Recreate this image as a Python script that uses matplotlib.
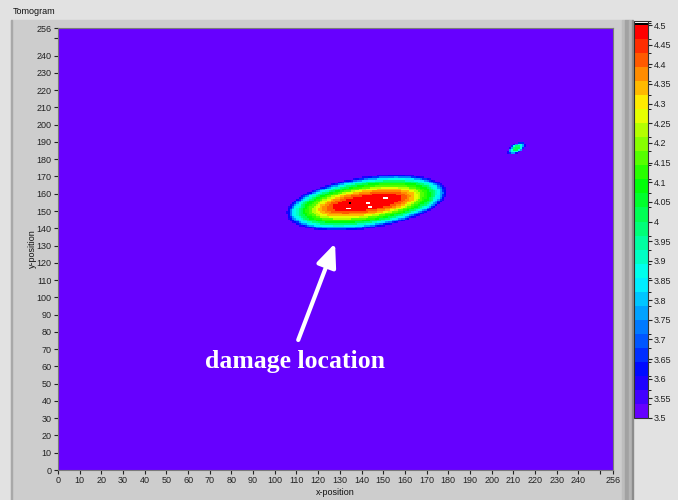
import numpy as np
import matplotlib
matplotlib.use('Agg')
import matplotlib.pyplot as plt
from matplotlib.colors import ListedColormap, BoundaryNorm, LinearSegmentedColormap
from matplotlib.patches import Rectangle

# ---- data ----
grid_size = 256
background_value = 3.5

# main damage zone: elliptical blob; each level outline given as relative (major, minor) radius
blob_center = [142.3, 154.8]
blob_semi_axes = [37.5, 14.8]
blob_angle = 11.0
blob_levels = [3.55, 3.60, 3.65, 3.70, 3.75, 3.80, 3.85, 3.90, 3.95, 4.00,
               4.05, 4.10, 4.15, 4.20, 4.25, 4.30, 4.35, 4.40, 4.45]
blob_major_r = [1.0, 0.985, 0.97, 0.955, 0.94, 0.925, 0.905, 0.88, 0.855, 0.83,
                0.80, 0.76, 0.72, 0.68, 0.64, 0.60, 0.55, 0.50, 0.43]
blob_minor_r = [1.0, 0.975, 0.95, 0.925, 0.90, 0.87, 0.84, 0.81, 0.78, 0.74,
                0.70, 0.66, 0.61, 0.56, 0.52, 0.47, 0.42, 0.36, 0.28]

# small spot top right
spot_center = [211.5, 186.3]
spot_semi_axes = [5.0, 2.6]
spot_angle = 40.0
spot_levels = [3.55, 3.65, 3.75, 3.85, 3.95, 4.00]
spot_major_r = [1.0, 0.9, 0.78, 0.62, 0.45, 0.28]
spot_minor_r = [1.0, 0.9, 0.78, 0.62, 0.45, 0.28]

# saturated cells inside the core (white / black in the scale)
hot_x = [150, 151, 142, 143, 143, 144, 133, 134, 134]
hot_y = [157, 157, 154, 154, 152, 152, 151, 151, 154]
hot_v = [4.51, 4.51, 4.51, 4.51, 4.51, 4.51, 4.51, 4.51, 4.502]

# colour scale
scale_min, scale_max = 3.5, 4.5
scale_anchor_vals = [3.5, 3.6, 3.85, 4.1, 4.3, 4.5]
scale_anchor_cols = ['#6600ff', '#0000ff', '#00ffff', '#00ff00', '#ffff00', '#ff0000']
scale_ticks = [3.5, 3.55, 3.6, 3.65, 3.7, 3.75, 3.8, 3.85, 3.9, 3.95, 4.0,
               4.05, 4.1, 4.15, 4.2, 4.25, 4.3, 4.35, 4.4, 4.45, 4.5]

axis_ticks = list(range(0, 251, 10)) + [256]
axis_labels = [str(t) if (t <= 240 or t == 256) else '' for t in axis_ticks]

arrow_tail = [110.8, 75.3]
arrow_head = [127.8, 131.3]
label_pos = [109.3, 59.0]
label_text = 'damage location'


def local_uv(X, Y, center, semi, angle):
    th = np.deg2rad(angle)
    dx, dy = X - center[0], Y - center[1]
    u = dx * np.cos(th) + dy * np.sin(th)
    v = -dx * np.sin(th) + dy * np.cos(th)
    return u / semi[0], v / semi[1]


def paint(field, center, semi, angle, levels, major_r, minor_r):
    u, v = local_uv(X, Y, center, semi, angle)
    for lv, ra, rb in zip(levels, major_r, minor_r):
        field[(u / ra) ** 2 + (v / rb) ** 2 <= 1.0] = lv + 0.025


# rasterize the level outlines onto the grid
cells = np.arange(grid_size) + 0.5
X, Y = np.meshgrid(cells, cells)
field = np.full((grid_size, grid_size), background_value + 0.005)
paint(field, blob_center, blob_semi_axes, blob_angle, blob_levels, blob_major_r, blob_minor_r)
paint(field, spot_center, spot_semi_axes, spot_angle, spot_levels, spot_major_r, spot_minor_r)
for hx, hy, hv in zip(hot_x, hot_y, hot_v):
    field[hy, hx] = hv

# stepped LabVIEW-like colour ramp, plus black/white over-range bands
grad = LinearSegmentedColormap.from_list(
    'lv', list(zip((np.array(scale_anchor_vals) - scale_min) / (scale_max - scale_min), scale_anchor_cols)))
n_steps = 28
colors = [grad(i / (n_steps - 1)) for i in range(n_steps)] + ['black', 'white']
bounds = list(np.linspace(scale_min, scale_max, n_steps + 1)) + [4.5045, 4.511]
cmap = ListedColormap(colors)
norm = BoundaryNorm(bounds, cmap.N)

plt.rcParams['font.family'] = ['Liberation Sans', 'DejaVu Sans']
W, H = 678, 500
fig = plt.figure(figsize=(W / 100, H / 100), dpi=100, facecolor='#e2e2e2')

# panel backgrounds
fig.patches.append(Rectangle((11 / W, 0), (622 - 11) / W, 480 / H, transform=fig.transFigure,
                             color='#cdcdcd', zorder=-10))
fig.patches.append(Rectangle((11 / W, 0), 1 / W, 480 / H, transform=fig.transFigure,
                             color='#a8a8a8', zorder=-9))
for x0, w, c in [(622, 3, '#bdbdbd'), (625, 4, '#a2a2a2'), (629, 3, '#b4b4b4'), (632, 1, '#8c8c8c')]:
    fig.patches.append(Rectangle((x0 / W, 0), w / W, 480 / H, transform=fig.transFigure,
                                 color=c, zorder=-9))
fig.text(13 / W, 1 - 12 / H, 'Tomogram', fontsize=6.5, va='center', ha='left', color='#111111')

ax = fig.add_axes([58 / W, 30 / H, 555 / W, 442 / H])
im = ax.imshow(field, origin='lower', extent=(0, grid_size, 0, grid_size), cmap=cmap, norm=norm,
               aspect='auto', interpolation='nearest')
ax.set_xlim(0, 256)
ax.set_ylim(0, 256)
ax.set_xticks(axis_ticks)
ax.set_xticklabels(axis_labels)
ax.set_yticks(axis_ticks)
ax.set_yticklabels(axis_labels)
ax.tick_params(direction='out', length=3, width=0.8, labelsize=6.5, pad=1.5, colors='#222222')
ax.set_xlabel('x-position', fontsize=6.5, labelpad=2, color='#111111')
ax.set_ylabel('y-position', fontsize=6.5, labelpad=0, color='#111111')
for s in ax.spines.values():
    s.set_color('#7a7a7a')
    s.set_linewidth(0.8)

ax.annotate('', xy=arrow_head, xytext=arrow_tail,
            arrowprops=dict(arrowstyle='-|>,head_length=0.7,head_width=0.3', color='white',
                            lw=3, mutation_scale=20, shrinkA=0, shrinkB=0))
ax.text(label_pos[0], label_pos[1], label_text, color='white', fontsize=18.5, fontweight='bold',
        family='Liberation Serif', ha='center', va='baseline')

# colour scale
cax = fig.add_axes([634 / W, (H - 418) / H, 14 / W, (418 - 20.7) / H])
cb = fig.colorbar(im, cax=cax, spacing='proportional', ticks=scale_ticks)
cb.ax.set_ylim(scale_min, 4.511)
cb.ax.set_yticklabels([f'{t:g}' for t in scale_ticks])
cb.ax.tick_params(length=3, width=0.8, labelsize=6.5, pad=1, colors='#222222')
cb.outline.set_edgecolor('#333333')
cb.outline.set_linewidth(0.8)

fig.savefig('out.png', dpi=100, facecolor=fig.get_facecolor())
